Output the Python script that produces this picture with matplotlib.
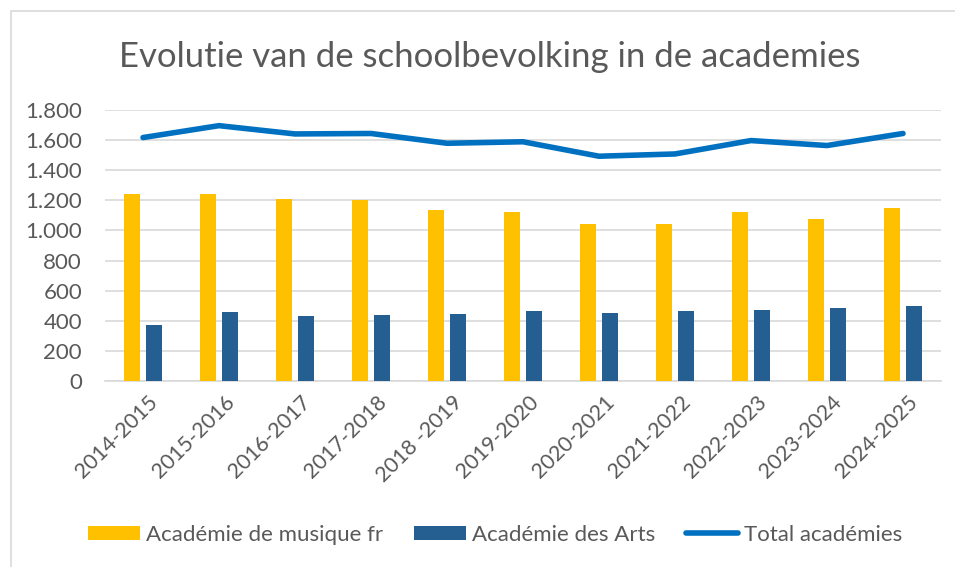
import matplotlib
matplotlib.use("Agg")
import matplotlib.pyplot as plt
from matplotlib.patches import Rectangle
from matplotlib.transforms import ScaledTranslation
import numpy as np

categories = ["2014-2015", "2015-2016", "2016-2017", "2017-2018", "2018 -2019", "2019-2020",
              "2020-2021", "2021-2022", "2022-2023", "2023-2024", "2024-2025"]
musique = [1245, 1240, 1207, 1203, 1134, 1121, 1043, 1043, 1123, 1079, 1148]
arts = [372, 456, 434, 441, 445, 468, 450, 465, 474, 485, 496]
total = [1617, 1696, 1641, 1644, 1579, 1589, 1493, 1508, 1597, 1564, 1644]
yticks = [0, 200, 400, 600, 800, 1000, 1200, 1400, 1600, 1800]
ytick_labels = ["0", "200", "400", "600", "800", "1.000", "1.200", "1.400", "1.600", "1.800"]

plt.rcParams['font.family'] = ['Lato', 'DejaVu Sans']
W, H = 955, 567
fig = plt.figure(figsize=(W / 100, H / 100), dpi=100)
ax = fig.add_axes([105 / W, 1 - 381 / H, 836 / W, 271 / H])

x = np.arange(len(categories))
bw = 0.22
off = 0.145
b1 = ax.bar(x - off, musique, width=bw, color="#FFC000", label="Académie de musique fr", zorder=3)
b2 = ax.bar(x + off, arts, width=bw, color="#255E91", label="Académie des Arts", zorder=3)
l1, = ax.plot(x, total, color="#0070C0", linewidth=4, solid_capstyle="round", label="Total académies", zorder=4)

ax.set_xlim(-0.5, len(categories) - 0.5)
ax.set_ylim(0, 1800)
ax.set_yticks(yticks)
ax.set_yticklabels(ytick_labels)
ax.set_xticks(x)
ax.set_xticklabels(categories, rotation=45, ha="right", rotation_mode="anchor")
ax.tick_params(axis="both", length=0, colors="#595959", labelsize=16)
ax.tick_params(axis="x", labelsize=15.5)
ax.tick_params(axis="y", pad=16.5)
ax.tick_params(axis="x", pad=8)
shift = ScaledTranslation(5 / 100, 0, fig.dpi_scale_trans)
for lbl in ax.get_xticklabels():
    lbl.set_transform(lbl.get_transform() + shift)
ax.grid(axis="y", color="#D9D9D9", linewidth=1.2, zorder=0)
for s in ["top", "right", "left"]:
    ax.spines[s].set_visible(False)
ax.spines["bottom"].set_color("#D9D9D9")
ax.spines["bottom"].set_linewidth(1.2)

fig.text(490 / W, 1 - 57 / H, "Evolutie van de schoolbevolking in de academies",
         ha="center", va="center", fontsize=25, color="#595959")

leg = fig.legend(handles=[b1, b2, l1], loc="center", bbox_to_anchor=(495 / W, 1 - 535 / H), ncol=3,
                 frameon=False, fontsize=16, labelcolor="#595959", handlelength=2.35,
                 handleheight=0.63, columnspacing=1.4, handletextpad=0.25)

fig.patches.append(Rectangle((11 / W, -0.1), 1.2, 1 - 11 / H + 0.1, transform=fig.transFigure,
                             fill=False, edgecolor="#D9D9D9", linewidth=1.2))

fig.savefig("out.png", dpi=100)
